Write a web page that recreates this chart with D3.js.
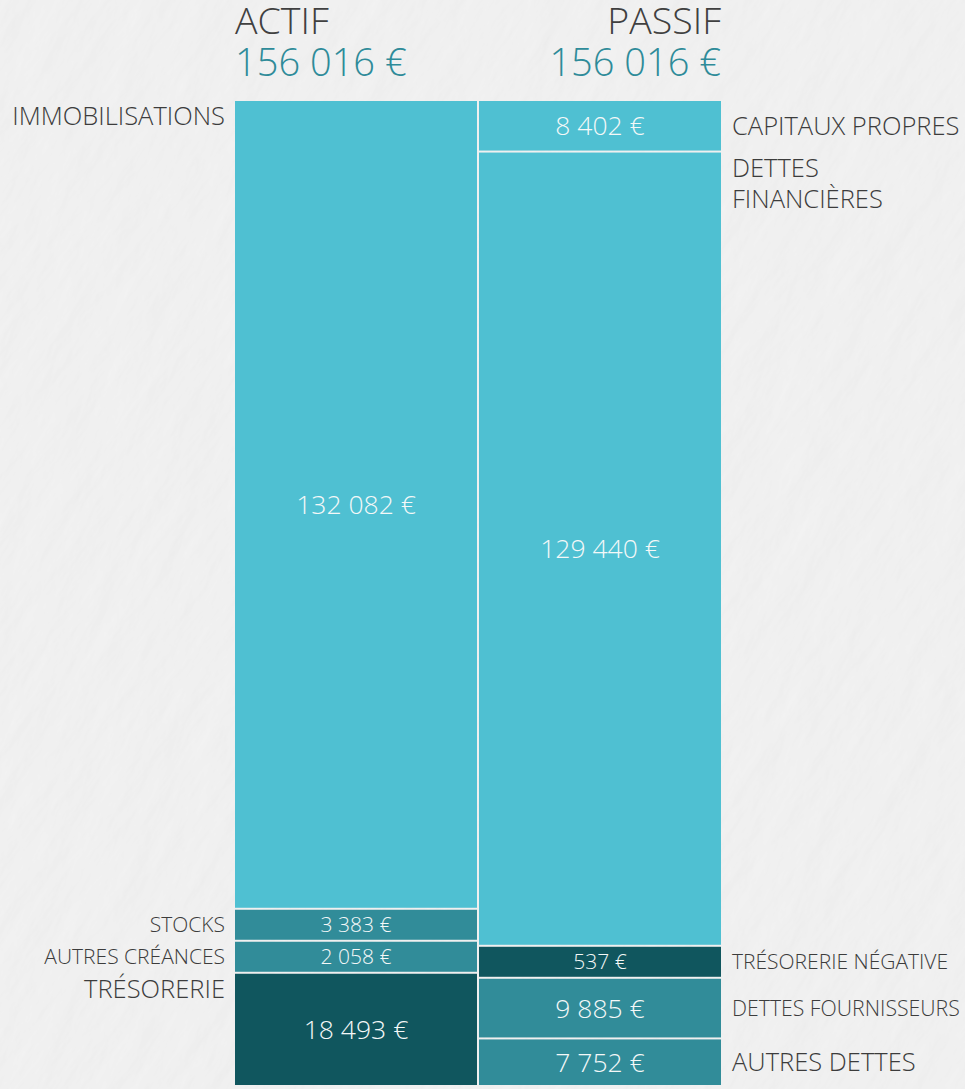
<!DOCTYPE html>
<html>
<head>
<meta charset="utf-8">
<script src="https://cdn.jsdelivr.net/npm/d3@7"></script>
<style>
  html, body { margin: 0; padding: 0; background: #eeeeee; }
  svg { display: block; font-family: "Open Sans", sans-serif; font-weight: 300; }
</style>
</head>
<body>
<svg id="chart" width="965" height="1089"></svg>
<script>
// données du bilan
var columns = ["ACTIF", "PASSIF"];

var actifLabels = ["IMMOBILISATIONS", "STOCKS", "AUTRES CRÉANCES", "TRÉSORERIE"];
var actifValues = [132082, 3383, 2058, 18493];
var actifShades = ["light", "mid", "mid", "dark"];

var passifLabels = ["CAPITAUX PROPRES", "DETTES FINANCIÈRES", "TRÉSORERIE NÉGATIVE", "DETTES FOURNISSEURS", "AUTRES DETTES"];
var passifValues = [8402, 129440, 537, 9885, 7752];
var passifShades = ["light", "light", "dark", "mid", "mid"];

var shadeColor = { light: "#4fc0d2", mid: "#318c99", dark: "#10565e" };

var W = 965, H = 1089;
var yTop = 100, yBottom = 1086, minH = 32;

var svg = d3.select('#chart');

// fond façon plâtre
var defs = svg.append('defs');
var f = defs.append('filter').attr('id', 'plaster')
    .attr('filterUnits', 'userSpaceOnUse')
    .attr('x', -600).attr('y', -600).attr('width', 2200).attr('height', 2200);
f.append('feTurbulence')
    .attr('type', 'fractalNoise')
    .attr('baseFrequency', '0.012 0.035')
    .attr('numOctaves', 5)
    .attr('seed', 11)
    .attr('result', 'noise');
f.append('feDiffuseLighting')
    .attr('in', 'noise')
    .attr('lighting-color', '#ffffff')
    .attr('surfaceScale', 1.2)
  .append('feDistantLight')
    .attr('azimuth', 225)
    .attr('elevation', 64);

svg.append('rect')
    .attr('width', W).attr('height', H)
    .attr('fill', '#eeeeee');
svg.append('g')
    .attr('transform', 'rotate(-55 ' + W / 2 + ' ' + H / 2 + ')')
  .append('rect')
    .attr('x', -600).attr('y', -600)
    .attr('width', 2200).attr('height', 2200)
    .attr('filter', 'url(#plaster)')
    .attr('opacity', 0.4);

var x = d3.scaleBand().domain(columns).range([234, 722]).paddingInner(0);

var fmt = d3.formatLocale({ decimal: ",", thousands: " ", grouping: [3], currency: ["", " €"] }).format(",");
function euro(v) { return fmt(v) + " €"; }

// hauteur minimale pour les petits postes, le reste proportionnel
function layout(labels, values, shades) {
    var total = d3.sum(values);
    var full = yBottom - yTop;
    var small = values.map(function(v) { return v / total * full < minH; });
    var nSmall = small.filter(Boolean).length;
    var bigSum = d3.sum(values.filter(function(v, i) { return !small[i]; }));
    var h = d3.scaleLinear().domain([0, bigSum]).range([0, full - nSmall * minH]);
    var y = yTop;
    return values.map(function(v, i) {
        var hh = small[i] ? minH : h(v);
        var d = { label: labels[i], value: v, shade: shades[i], y0: y, h: hh, small: small[i] };
        y += hh;
        return d;
    });
}

var sides = [
    { name: "ACTIF", segs: layout(actifLabels, actifValues, actifShades), total: d3.sum(actifValues), side: "left" },
    { name: "PASSIF", segs: layout(passifLabels, passifValues, passifShades), total: d3.sum(passifValues), side: "right" }
];

sides.forEach(function(s) {
    var x0 = x(s.name), bw = x.bandwidth();
    var anchor = s.side === "left" ? "start" : "end";
    var tx = s.side === "left" ? x0 + 1 : x0 + bw - 1;

    svg.append('text')
        .attr('x', tx).attr('y', 34)
        .attr('text-anchor', anchor)
        .attr('font-size', 37.5)
        .attr('fill', '#404040')
        .text(s.name);
    svg.append('text')
        .attr('x', tx).attr('y', 76)
        .attr('text-anchor', anchor)
        .attr('font-size', 38)
        .attr('fill', '#2e8b99')
        .text(euro(s.total));

    var g = svg.append('g').selectAll('g')
        .data(s.segs)
        .enter()
        .append('g');

    g.append('rect')
        .attr('x', x0 + 1)
        .attr('y', function(d) { return d.y0 + 1; })
        .attr('width', bw - 2)
        .attr('height', function(d) { return d.h - 2; })
        .attr('fill', function(d) { return shadeColor[d.shade]; });

    g.append('text')
        .attr('x', x0 + bw / 2)
        .attr('y', function(d) { return d.y0 + d.h / 2; })
        .attr('dy', '0.36em')
        .attr('text-anchor', 'middle')
        .attr('font-size', function(d) { return d.small ? 21 : 26.5; })
        .attr('fill', '#f4f8f8')
        .text(function(d) { return euro(d.value); });

    // libellés à côté des colonnes
    var lx = s.side === "left" ? 225 : 732;
    var maxW = s.side === "left" ? 218 : 228;
    g.each(function(d) {
        var size = d.small ? 21 : 25.5;
        var t = d3.select(this).append('text')
            .attr('x', lx)
            .attr('text-anchor', s.side === "left" ? "end" : "start")
            .attr('font-size', size)
            .attr('fill', '#3c3c3c');
        var tall = d.h > 100;
        if (tall) {
            // en haut du bloc, avec retour à la ligne si besoin
            var words = d.label.split(' ');
            var lines = [words[0]];
            for (var i = 1; i < words.length; i++) {
                var test = lines[lines.length - 1] + ' ' + words[i];
                t.text(test);
                if (t.node().getComputedTextLength() > maxW) lines.push(words[i]);
                else lines[lines.length - 1] = test;
            }
            t.text(null).attr('y', d.y0 + 25);
            lines.forEach(function(l, i) {
                t.append('tspan').attr('x', lx).attr('dy', i === 0 ? 0 : 31).text(l);
            });
        } else {
            t.text(d.label)
                .attr('y', d.y0 + d.h / 2)
                .attr('dy', '0.36em');
            var w = t.node().getComputedTextLength();
            if (w > maxW) t.attr('font-size', size * maxW / w);
        }
    });
});
</script>
</body>
</html>
